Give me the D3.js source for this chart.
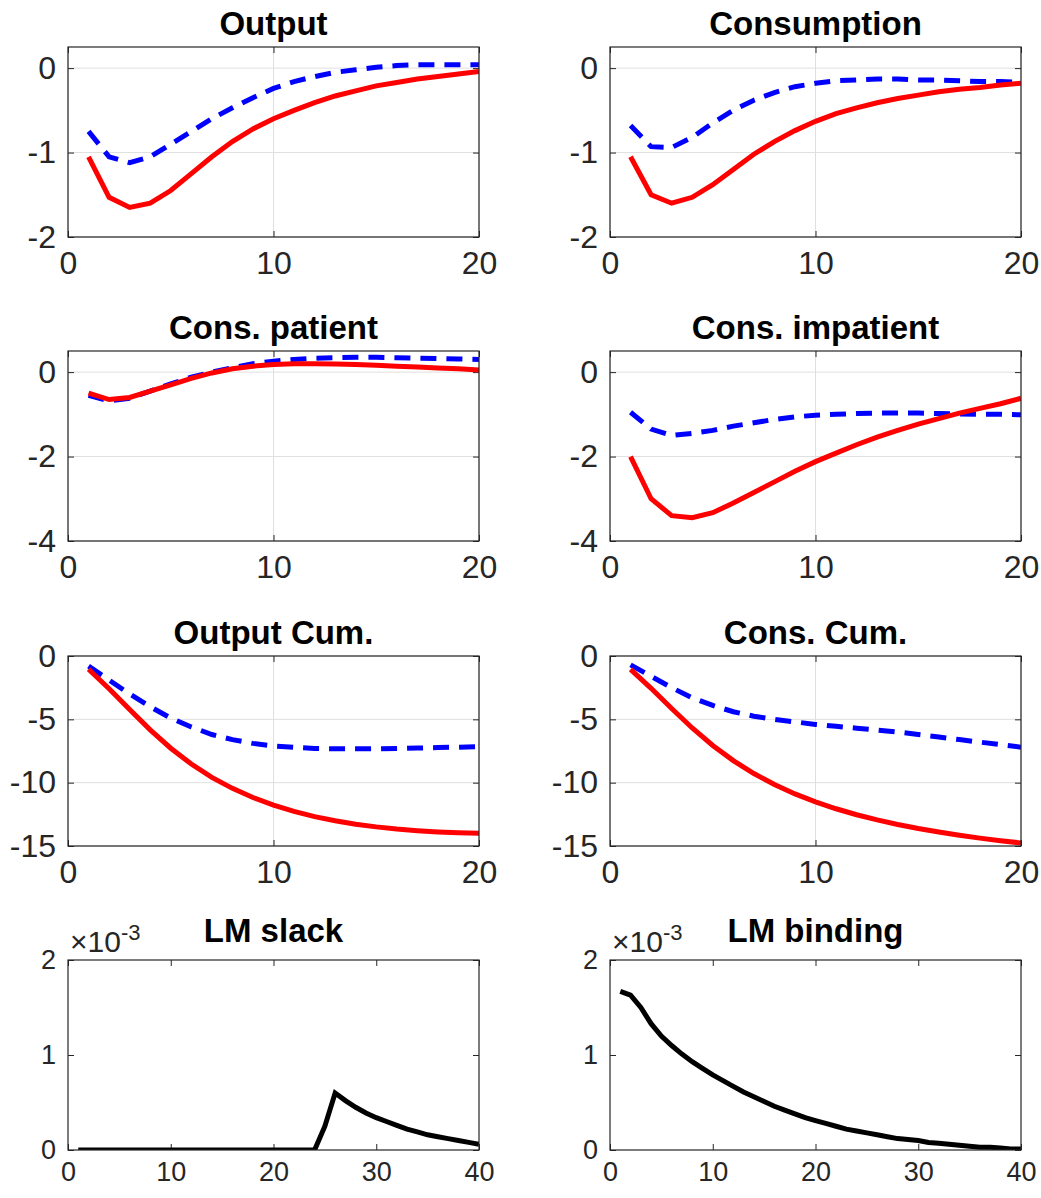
<!DOCTYPE html>
<html>
<head>
<meta charset="utf-8" />
<script src="https://d3js.org/d3.v7.min.js"></script>
<style>
  body { margin: 0; background: #fff; }
  text { font-family: "Liberation Sans", Arial, sans-serif; }
</style>
</head>
<body>
<svg id="chart" width="1041" height="1198"></svg>
<script>
// impulse responses, periods 1..20
var outRed = [-1.05,-1.53,-1.65,-1.6,-1.45,-1.25,-1.05,-0.87,-0.72,-0.6,-0.5,-0.41,-0.33,-0.27,-0.21,-0.17,-0.13,-0.1,-0.07,-0.04];
var outBlue = [-0.75,-1.05,-1.12,-1.05,-0.9,-0.75,-0.6,-0.47,-0.35,-0.24,-0.16,-0.1,-0.05,-0.02,0.01,0.03,0.04,0.04,0.04,0.04];
var consRed = [-1.05,-1.5,-1.6,-1.53,-1.38,-1.2,-1.02,-0.87,-0.74,-0.63,-0.54,-0.47,-0.41,-0.36,-0.32,-0.28,-0.25,-0.23,-0.2,-0.18];
var consBlue = [-0.68,-0.93,-0.94,-0.82,-0.65,-0.5,-0.38,-0.29,-0.22,-0.18,-0.15,-0.14,-0.13,-0.13,-0.14,-0.14,-0.15,-0.16,-0.16,-0.17];
var patRed = [-0.5,-0.65,-0.6,-0.45,-0.3,-0.15,-0.02,0.08,0.14,0.18,0.2,0.2,0.19,0.18,0.16,0.14,0.12,0.1,0.08,0.05];
var patBlue = [-0.55,-0.68,-0.62,-0.45,-0.28,-0.12,0,0.1,0.2,0.26,0.3,0.33,0.34,0.35,0.35,0.34,0.33,0.32,0.31,0.3];
var impRed = [-2,-3,-3.4,-3.45,-3.33,-3.1,-2.85,-2.6,-2.35,-2.12,-1.92,-1.72,-1.54,-1.38,-1.23,-1.1,-0.97,-0.86,-0.75,-0.62];
var impBlue = [-0.95,-1.35,-1.5,-1.45,-1.38,-1.28,-1.2,-1.12,-1.06,-1.02,-1.0,-0.98,-0.97,-0.97,-0.97,-0.98,-0.99,-1.0,-1.0,-1.01];
var outCumRed = [-1.05,-2.58,-4.23,-5.83,-7.28,-8.53,-9.58,-10.45,-11.17,-11.77,-12.27,-12.68,-13.01,-13.28,-13.49,-13.66,-13.79,-13.89,-13.96,-14.0];
var outCumBlue = [-0.8,-1.9,-3.0,-4.0,-4.9,-5.6,-6.2,-6.6,-6.9,-7.1,-7.2,-7.3,-7.33,-7.33,-7.32,-7.3,-7.27,-7.23,-7.2,-7.15];
var consCumRed = [-1.05,-2.55,-4.15,-5.68,-7.06,-8.26,-9.28,-10.15,-10.89,-11.52,-12.06,-12.53,-12.94,-13.3,-13.62,-13.9,-14.15,-14.38,-14.58,-14.76];
var consCumBlue = [-0.7,-1.6,-2.5,-3.3,-3.9,-4.4,-4.75,-5.0,-5.2,-5.4,-5.55,-5.7,-5.85,-6.0,-6.2,-6.4,-6.6,-6.8,-7.0,-7.2];
// multipliers, periods 1..40
var lmSlack = [0,0,0,0,0,0,0,0,0,0,0,0,0,0,0,0,0,0,0,0,0,0,0,0,0.00025,0.0006,0.00052,0.00045,0.00039,0.00034,0.0003,0.00026,0.00022,0.00019,0.00016,0.00014,0.00012,0.0001,0.00008,0.00006];
var lmBinding = [0.00167,0.00163,0.0015,0.00133,0.0012,0.0011,0.00101,0.00093,0.00086,0.00079,0.00073,0.00067,0.00061,0.00056,0.00051,0.00046,0.00042,0.00038,0.00034,0.00031,0.00028,0.00025,0.00022,0.0002,0.00018,0.00016,0.00014,0.00012,0.00011,0.0001,0.00008,0.00007,0.00006,0.00005,0.00004,0.00003,0.00003,0.00002,0.00001,0.00001];

var panels = [
  {title: "Output", red: outRed, blue: outBlue, y: [-2, 0.25], yt: [-2, -1, 0], xmax: 20, xt: [0, 10, 20]},
  {title: "Consumption", red: consRed, blue: consBlue, y: [-2, 0.25], yt: [-2, -1, 0], xmax: 20, xt: [0, 10, 20]},
  {title: "Cons. patient", red: patRed, blue: patBlue, y: [-4, 0.5], yt: [-4, -2, 0], xmax: 20, xt: [0, 10, 20]},
  {title: "Cons. impatient", red: impRed, blue: impBlue, y: [-4, 0.5], yt: [-4, -2, 0], xmax: 20, xt: [0, 10, 20]},
  {title: "Output Cum.", red: outCumRed, blue: outCumBlue, y: [-15, 0], yt: [-15, -10, -5, 0], xmax: 20, xt: [0, 10, 20]},
  {title: "Cons. Cum.", red: consCumRed, blue: consCumBlue, y: [-15, 0], yt: [-15, -10, -5, 0], xmax: 20, xt: [0, 10, 20]},
  {title: "LM slack", black: lmSlack, y: [0, 0.002], yt: [0, 0.001, 0.002], xmax: 40, xt: [0, 10, 20, 30, 40], exp: true},
  {title: "LM binding", black: lmBinding, y: [0, 0.002], yt: [0, 0.001, 0.002], xmax: 40, xt: [0, 10, 20, 30, 40], exp: true}
];

var svg = d3.select("#chart");
var colX = [68, 610], W = 411, H = 190;
var rowY = [47, 351, 656, 960];
var ink = "#262626";

// plain hyphen for negatives, like the original
var plain = function(d) { return String(Math.round(d)); };

panels.forEach(function(p, i) {
  var left = colX[i % 2], top = rowY[Math.floor(i / 2)];
  var g = svg.append("g").attr("transform", "translate(" + left + "," + top + ")");
  var x = d3.scaleLinear().domain([0, p.xmax]).range([0, W]);
  var y = d3.scaleLinear().domain(p.y).range([H, 0]);
  var fs = p.exp ? "27px" : "32px";

  if (!p.exp) {
    g.selectAll(".gx").data(p.xt).enter().append("line")
      .attr("x1", x).attr("x2", x).attr("y1", 0).attr("y2", H)
      .attr("stroke", "#dfdfdf").attr("stroke-width", 1);
    g.selectAll(".gy").data(p.yt).enter().append("line")
      .attr("y1", y).attr("y2", y).attr("x1", 0).attr("x2", W)
      .attr("stroke", "#dfdfdf").attr("stroke-width", 1);
  }

  var yfmt = p.exp ? function(d) { return plain(d * 1000); } : plain;
  var ax = function(a) {
    a.select(".domain").remove();
    a.selectAll("line").attr("stroke", ink);
    a.selectAll("text").attr("fill", ink).style("font-size", fs);
  };
  g.append("g").attr("transform", "translate(0," + H + ")")
    .call(d3.axisBottom(x).tickValues(p.xt).tickSize(-6).tickPadding(p.exp ? 12 : 14).tickFormat(plain))
    .call(ax);
  g.append("g").call(d3.axisTop(x).tickValues(p.xt).tickSize(-6).tickFormat("")).call(ax);
  g.append("g")
    .call(d3.axisLeft(y).tickValues(p.yt).tickSize(-6).tickPadding(12).tickFormat(yfmt))
    .call(ax);
  g.append("g").attr("transform", "translate(" + W + ",0)")
    .call(d3.axisRight(y).tickValues(p.yt).tickSize(-6).tickFormat("")).call(ax);

  var clip = "clip" + i;
  g.append("clipPath").attr("id", clip).append("rect").attr("width", W).attr("height", H);
  var line = d3.line().x(function(d, k) { return x(k + 1); }).y(function(d) { return y(d); });
  var lines = g.append("g").attr("clip-path", "url(#" + clip + ")");
  if (p.blue) lines.append("path").datum(p.blue).attr("d", line).attr("fill", "none")
    .attr("stroke", "#0000ff").attr("stroke-width", 5).attr("stroke-dasharray", "16,10");
  if (p.red) lines.append("path").datum(p.red).attr("d", line).attr("fill", "none")
    .attr("stroke", "#ff0000").attr("stroke-width", 5);
  if (p.black) lines.append("path").datum(p.black).attr("d", line).attr("fill", "none")
    .attr("stroke", "#000").attr("stroke-width", 5);

  g.append("rect").attr("width", W).attr("height", H).attr("fill", "none")
    .attr("stroke", ink).attr("stroke-width", 1.2);

  g.append("text").attr("x", W / 2).attr("y", p.exp ? -18 : -12).attr("text-anchor", "middle")
    .attr("font-weight", "bold").style("font-size", "33px").attr("fill", "#000").text(p.title);

  if (p.exp) {
    var t = g.append("text").attr("x", 2).attr("y", -8).style("font-size", "30px").attr("fill", ink);
    t.append("tspan").text("\u00d710");
    t.append("tspan").attr("dy", -12).style("font-size", "22px").text("-3");
  }
});
</script>
</body>
</html>
